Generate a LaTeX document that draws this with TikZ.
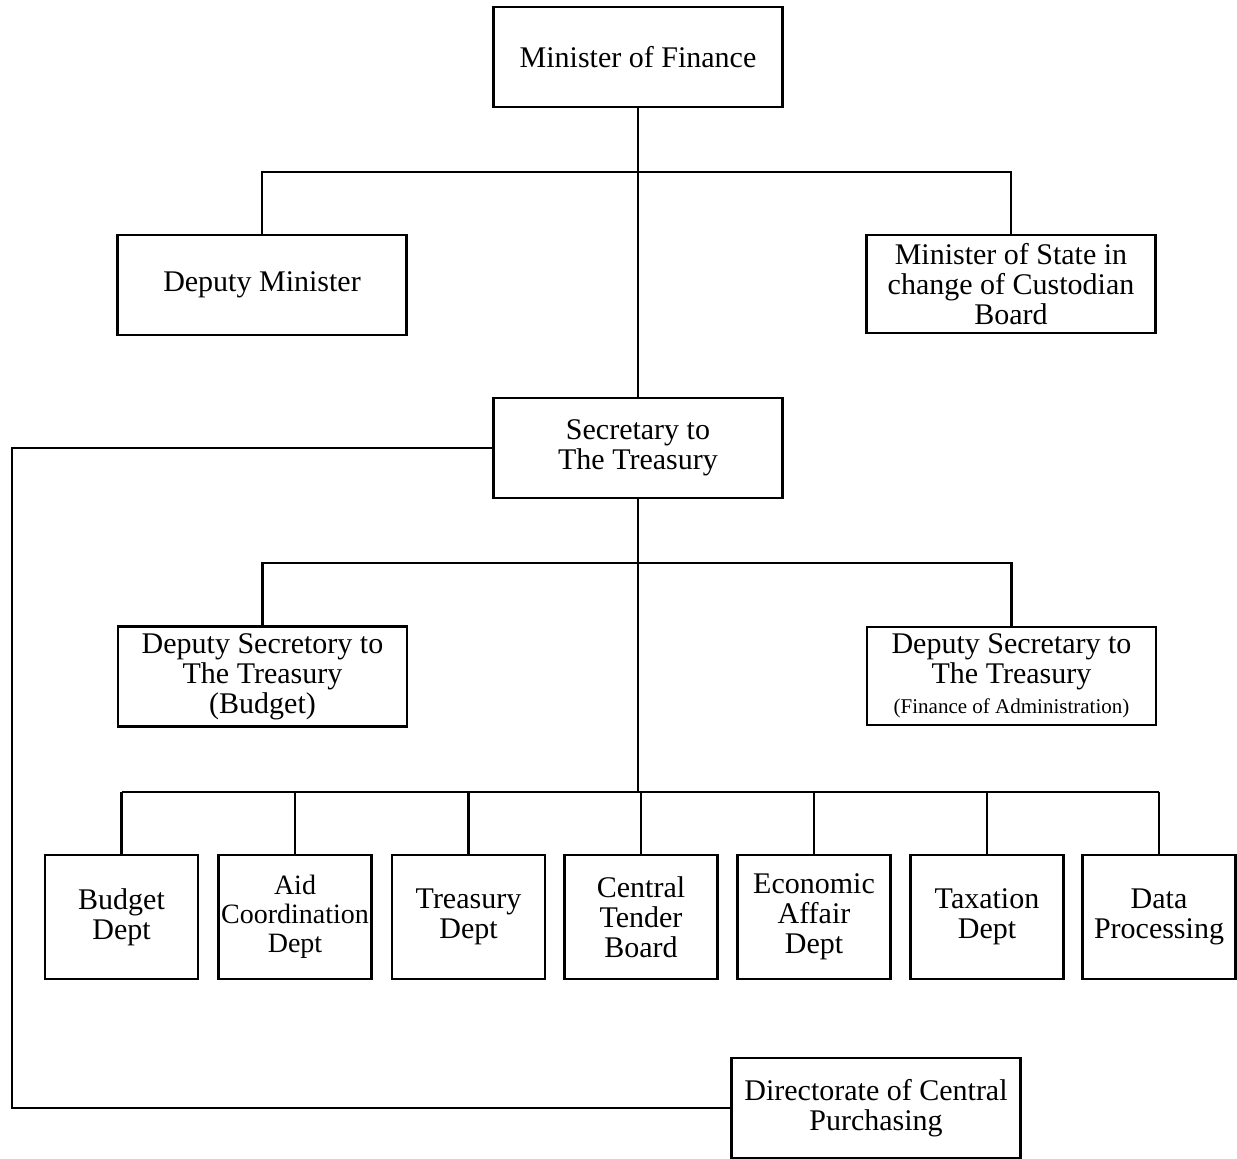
\documentclass[tikz,border=0pt]{standalone}
\usepackage{fontspec}
\setmainfont{Liberation Serif}
\usetikzlibrary{positioning}

\begin{document}
\begin{tikzpicture}[
    x=0.5pt, y=0.5pt,
    font=\fontsize{15}{15}\selectfont,
    box/.style={draw, line width=1.1pt, align=center, inner sep=1pt,
                minimum width=144.5pt, minimum height=50pt},
    dept/.style={box, minimum width=76.5pt, minimum height=62pt},
    link/.style={line width=1.1pt},
]
\useasboundingbox (0,0) rectangle (1237,-1159);

% --- Minister and the two posts beside him ------------------------------------
\node[box] (mof) at (638,-57) {Minister of Finance};
\node[box] (dm) at (262,-285) {Deputy Minister};
\node[box, minimum height=49pt] (ms) at (1011,-284)
    {Minister of State in\\change of Custodian\\Board};
\coordinate (busA) at (638,-172);
\draw[link] (dm.north) |- (busA) -| (ms.north);

% --- Secretary to the Treasury and his deputies -------------------------------
\node[box] (sec) at (638,-448) {Secretary to\\The Treasury};
\draw[link] (mof.south) -- (sec.north);
\node[box] (dsb) at (262.5,-676.5)
    {Deputy Secretory to\\The Treasury\\(Budget)};
\node[box, minimum height=49pt] (dsf) at (1011.5,-676)
    {Deputy Secretary to\\The Treasury\\{\fontsize{10.5}{12}\selectfont(Finance of Administration)}};
\coordinate (busB) at (638,-563);
\draw[link] (dsb.north) |- (busB) -| (dsf.north);

% --- Departments --------------------------------------------------------------
\node[dept] (bud) at (121.5,-917) {Budget\\Dept};
\node[dept, inner sep=0pt, font=\fontsize{14}{14.5}\selectfont] (aid) at (295,-917)
    {Aid\\Coordination\\Dept};
\node[dept] (trs) at (468.5,-917) {Treasury\\Dept};
\node[dept] (ctb) at (641,-917)   {Central\\Tender\\Board};
\node[dept] (eco) at (814,-917)   {Economic\\Affair\\Dept};
\node[dept] (tax) at (987,-917)   {Taxation\\Dept};
\node[dept] (dat) at (1159,-917)  {Data\\Processing};
\coordinate (busC) at (638,-792);
\draw[link] (sec.south) -- (sec.south |- busC);
\draw[link] (bud.north |- busC) -- (dat.north |- busC);
\foreach \d in {bud,aid,trs,ctb,eco,tax,dat}
    \draw[link] (\d.north |- busC) -- (\d.north);

% --- Central purchasing, reached round the left side --------------------------
\node[box] (dcp) at (876,-1108) {Directorate of Central\\Purchasing};
\coordinate (loop) at (12,-448);
\draw[link] (sec.west) -- (loop) |- (dcp.west);

\end{tikzpicture}
\end{document}
